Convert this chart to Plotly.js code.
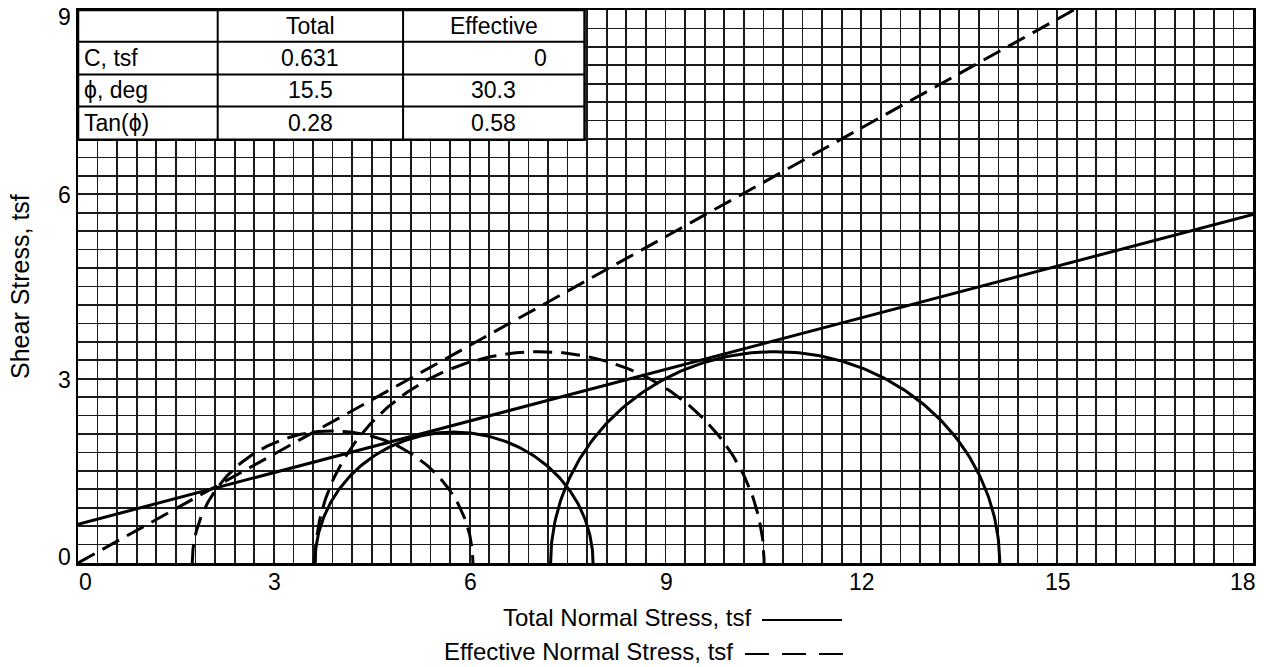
<!DOCTYPE html>
<html>
<head>
<meta charset="utf-8">
<script src="https://cdn.plot.ly/plotly-3.0.1.min.js"></script>
<style>html,body{margin:0;padding:0;background:#fff;}#chart{width:1266px;height:667px;}</style>
</head>
<body>
<div id="chart"></div>
<script>
// ---- data ----
// Mohr circles: minor / major principal stresses (tsf)
var totalSigma3 = [3.63, 7.24];
var totalSigma1 = [7.89, 14.12];
var effSigma3 = [1.75, 3.63];
var effSigma1 = [6.05, 10.51];
// Failure envelopes: [total, effective]
var envIntercept = [0.631, 0];
var envSlope = [0.28, 0.59];
// Table texts
var tableHeader = ['', 'Total', 'Effective'];
var rowLabels = ['C, tsf', '\u03D5, deg', 'Tan(\u03D5)'];
var totalVals = ['0.631', '15.5', '0.28'];
var effVals = ['0', '30.3', '0.58'];
// Axis ticks
var xTicks = [0, 3, 6, 9, 12, 15, 18];
var yTicks = [0, 3, 6, 9];

var FONT = 'Liberation Sans, Arial, Helvetica, sans-serif';

function circle(s3, s1) {
  var c = (s1 + s3) / 2, r = (s1 - s3) / 2, xs = [], ys = [];
  for (var i = 0; i <= 180; i++) {
    var a = Math.PI * (1 - i / 180);
    xs.push(c + r * Math.cos(a));
    ys.push(r * Math.sin(a));
  }
  return {x: xs, y: ys};
}

var traces = [];
var solid = {color: '#000', width: 3};
var dashed = {color: '#000', width: 3, dash: '19px,9px'};
for (var i = 0; i < totalSigma3.length; i++) {
  var p = circle(totalSigma3[i], totalSigma1[i]);
  traces.push({x: p.x, y: p.y, mode: 'lines', line: solid, hoverinfo: 'skip'});
}
for (var j = 0; j < effSigma3.length; j++) {
  var q = circle(effSigma3[j], effSigma1[j]);
  traces.push({x: q.x, y: q.y, mode: 'lines', line: dashed, hoverinfo: 'skip'});
}
var xEnd = 18;
traces.push({x: [0, xEnd], y: [envIntercept[0], envIntercept[0] + envSlope[0] * xEnd], mode: 'lines', line: solid, hoverinfo: 'skip'});
traces.push({x: [0, xEnd], y: [envIntercept[1], envIntercept[1] + envSlope[1] * xEnd], mode: 'lines', line: dashed, hoverinfo: 'skip'});

// ---- table (drawn in data coordinates over the grid) ----
var colB = [0, 2.14, 4.98, 7.76];
var rowB = [9, 8.485, 7.95, 7.43, 6.89];
var shapes = [];
shapes.push({type: 'rect', xref: 'x', yref: 'y', x0: colB[0], x1: colB[3], y0: rowB[4], y1: rowB[0],
  fillcolor: '#fff', line: {color: '#000', width: 2.5}, layer: 'above'});
for (var k = 1; k < rowB.length - 1; k++) {
  shapes.push({type: 'line', xref: 'x', yref: 'y', x0: colB[0], x1: colB[3], y0: rowB[k], y1: rowB[k],
    line: {color: '#000', width: 2}, layer: 'above'});
}
for (var m = 1; m < colB.length - 1; m++) {
  shapes.push({type: 'line', xref: 'x', yref: 'y', x0: colB[m], x1: colB[m], y0: rowB[0], y1: rowB[4],
    line: {color: '#000', width: 2}, layer: 'above'});
}
var annotations = [];
var tf = {family: FONT, size: 23, color: '#000'};
function rowMid(r) { return (rowB[r] + rowB[r + 1]) / 2; }
function colMid(c) { return (colB[c] + colB[c + 1]) / 2; }
for (var h = 1; h < tableHeader.length; h++) {
  annotations.push({x: colMid(h), y: rowMid(0), xref: 'x', yref: 'y', text: tableHeader[h], showarrow: false, font: tf, xanchor: 'center', yanchor: 'middle'});
}
for (var r = 0; r < rowLabels.length; r++) {
  annotations.push({x: colB[0] + 0.06, y: rowMid(r + 1), xref: 'x', yref: 'y', text: rowLabels[r], showarrow: false, font: tf, xanchor: 'left', yanchor: 'middle'});
  annotations.push({x: colMid(1), y: rowMid(r + 1), xref: 'x', yref: 'y', text: totalVals[r], showarrow: false, font: tf, xanchor: 'center', yanchor: 'middle'});
  var isZero = (effVals[r] === '0');
  annotations.push({x: isZero ? colB[3] - 0.55 : colMid(2), y: rowMid(r + 1), xref: 'x', yref: 'y', text: effVals[r], showarrow: false, font: tf, xanchor: isZero ? 'right' : 'center', yanchor: 'middle'});
}

// ---- tick labels (placed like the reference: end labels nudged inward) ----
var tickFont = {family: FONT, size: 23, color: '#000'};
xTicks.forEach(function (v, idx) {
  var sh = idx === 0 ? 7 : (idx === xTicks.length - 1 ? -10 : 1);
  annotations.push({x: v, xref: 'x', y: 0, yref: 'paper', yanchor: 'top', yshift: -4, xshift: sh, xanchor: 'center',
    text: String(v), showarrow: false, font: tickFont});
});
yTicks.forEach(function (v, idx) {
  var sh = idx === 0 ? 6 : (idx === yTicks.length - 1 ? -7 : -1);
  annotations.push({x: 0, xref: 'paper', y: v, yref: 'y', xanchor: 'right', yanchor: 'middle', xshift: -5, yshift: sh,
    text: String(v), showarrow: false, font: tickFont});
});

// ---- axis titles / key ----
var lf = {family: FONT, size: 24, color: '#000'};
function px(v) { return (v - 78) / 1175; }
function py(v) { return (563 - v) / 553; }
annotations.push({xref: 'paper', yref: 'paper', x: px(20), y: py(287), text: 'Shear Stress, tsf', textangle: -90, showarrow: false, font: {family: FONT, size: 25, color: '#000'}, xanchor: 'center', yanchor: 'middle'});
annotations.push({xref: 'paper', yref: 'paper', x: px(753), y: py(617), text: 'Total Normal Stress, tsf', showarrow: false, font: lf, xanchor: 'right', yanchor: 'middle'});
annotations.push({xref: 'paper', yref: 'paper', x: px(735), y: py(651), text: 'Effective Normal Stress, tsf', showarrow: false, font: lf, xanchor: 'right', yanchor: 'middle'});
shapes.push({type: 'line', xref: 'paper', yref: 'paper', x0: px(762), x1: px(842), y0: py(620), y1: py(620), line: {color: '#000', width: 2}});
shapes.push({type: 'line', xref: 'paper', yref: 'paper', x0: px(745), x1: px(845), y0: py(654), y1: py(654), line: {color: '#000', width: 2, dash: '24px,13px'}});

var gridCol = '#1a1a1a';
var layout = {
  width: 1266, height: 667,
  margin: {l: 78, r: 13, t: 10, b: 104},
  paper_bgcolor: '#fff', plot_bgcolor: '#fff',
  showlegend: false,
  xaxis: {range: [0, 18], tickvals: xTicks, showticklabels: false, showgrid: true, gridcolor: gridCol, gridwidth: 1.8,
    minor: {dtick: 0.3, tick0: 0, showgrid: true, gridcolor: gridCol, gridwidth: 1.7, ticks: ''},
    zeroline: false, showline: true, mirror: true, linecolor: '#000', linewidth: 2.5, ticks: '', fixedrange: true},
  yaxis: {range: [0, 9], tickvals: yTicks, showticklabels: false, showgrid: true, gridcolor: gridCol, gridwidth: 1.8,
    minor: {dtick: 0.3, tick0: 0, showgrid: true, gridcolor: gridCol, gridwidth: 1.7, ticks: ''},
    zeroline: false, showline: true, mirror: true, linecolor: '#000', linewidth: 2.5, ticks: '', fixedrange: true},
  shapes: shapes,
  annotations: annotations
};
Plotly.newPlot('chart', traces, layout, {staticPlot: true, displayModeBar: false});
</script>
</body>
</html>
